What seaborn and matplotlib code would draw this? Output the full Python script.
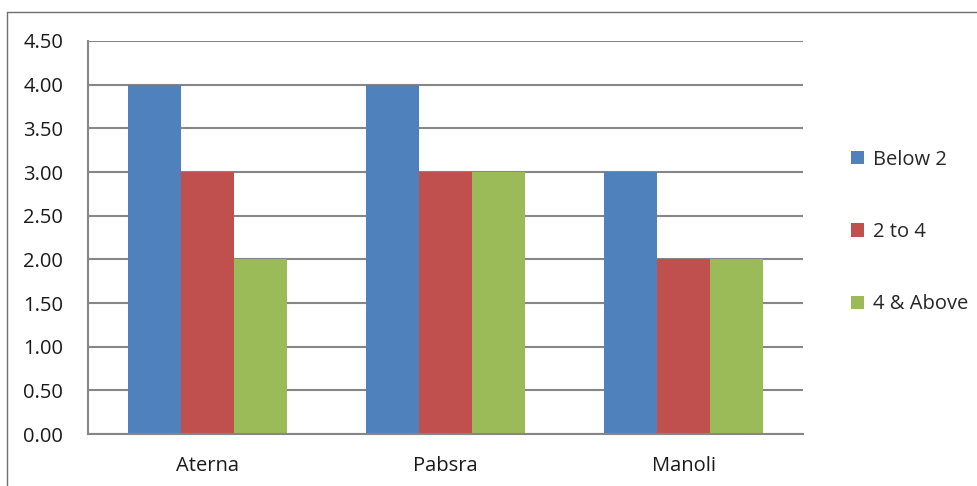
import matplotlib
matplotlib.use("Agg")
import matplotlib.pyplot as plt
import seaborn as sns
import pandas as pd
from matplotlib.lines import Line2D

categories = ["Aterna", "Pabsra", "Manoli"]
series_names = ["Below 2", "2 to 4", "4 & Above"]
below_2 = [4.0, 4.0, 3.0]
two_to_4 = [3.0, 3.0, 2.0]
four_above = [2.0, 3.0, 2.0]
y_ticks = [0.0, 0.5, 1.0, 1.5, 2.0, 2.5, 3.0, 3.5, 4.0, 4.5]
colors = ["#4F81BD", "#C0504D", "#9BBB59"]

rows = []
for name, vals in zip(series_names, [below_2, two_to_4, four_above]):
    for c, v in zip(categories, vals):
        rows.append({"Category": c, "Series": name, "Value": v})
df = pd.DataFrame(rows)

sns.set_theme(style="white")
plt.rcParams["font.family"] = ["Open Sans", "DejaVu Sans"]

fig = plt.figure(figsize=(9.78, 4.86), dpi=100)
ax = fig.add_axes([88/978, 52/486, (803-88)/978, (434-41)/486])

sns.barplot(data=df, x="Category", y="Value", hue="Series", palette=colors,
            order=categories, hue_order=series_names, width=0.667,
            saturation=1, ax=ax, errorbar=None, edgecolor="none", linewidth=0)

ax.set_ylim(0, 4.5)
ax.set_yticks(y_ticks)
ax.set_yticklabels([f"{t:.2f}" for t in y_ticks])
ax.set_xlim(-0.5, 2.5)
ax.set_xlabel("")
ax.set_ylabel("")
ax.yaxis.grid(True, color="#868686", linewidth=1.5)
ax.set_axisbelow(True)
for s in ["top", "right"]:
    ax.spines[s].set_visible(False)
for s in ["left", "bottom"]:
    ax.spines[s].set_color("#868686")
    ax.spines[s].set_linewidth(1.5)
ax.tick_params(axis="y", length=0, pad=18, labelsize=14.5, colors="#1a1a1a")
ax.tick_params(axis="x", length=0, pad=16, labelsize=14.5, colors="#1a1a1a")

handles, labels = ax.get_legend_handles_labels()
ax.get_legend().remove()
fig.legend(handles, labels, loc="center left", bbox_to_anchor=(841/978, 1 - 232/486),
           frameon=False, fontsize=14.5, handlelength=0.65, handleheight=0.65,
           handletextpad=0.45, labelspacing=2.6, borderpad=0)

# chart area border (left and top visible)
fig.add_artist(Line2D([7/978, 7/978], [0, 1 - 12/486], transform=fig.transFigure,
                      color="#707070", linewidth=1))
fig.add_artist(Line2D([7/978, 1], [1 - 12/486, 1 - 12/486], transform=fig.transFigure,
                      color="#707070", linewidth=1))

fig.savefig("out.png", dpi=100, facecolor="white")
